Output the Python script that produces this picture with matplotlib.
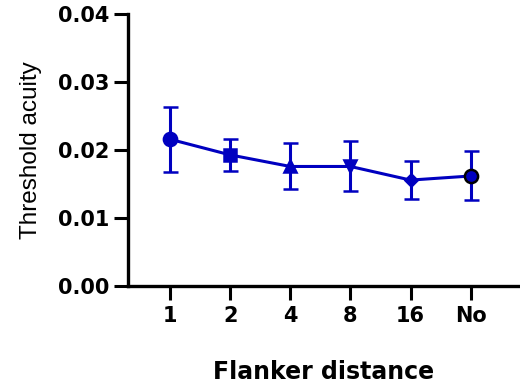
import matplotlib
matplotlib.use("Agg")
import matplotlib.pyplot as plt
import numpy as np

# data
labels = ['1', '2', '4', '8', '16', 'No']
means = [0.0216, 0.0193, 0.0176, 0.0176, 0.0156, 0.0162]
err_low = [0.0048, 0.0024, 0.0033, 0.0036, 0.0028, 0.0036]
err_high = [0.0047, 0.0024, 0.0035, 0.0038, 0.0028, 0.0037]
markers = ['o', 's', '^', 'v', 'D', 'o']
msizes = [9.5, 8.5, 8.5, 8.5, 6.5, 9.5]
edges = ['#0000c0', '#0000c0', '#0000c0', '#0000c0', '#0000c0', 'black']

blue = '#0000c0'

fig = plt.figure(figsize=(5.2, 3.91), dpi=100)
ax = fig.add_axes([0.246, 0.268, 0.754, 0.696])

x = np.arange(1, len(labels) + 1)
ax.plot(x, means, color=blue, lw=2.2, zorder=2)
for i in range(len(x)):
    ax.errorbar(x[i], means[i], yerr=[[err_low[i]], [err_high[i]]],
                fmt=markers[i], color=blue, ms=msizes[i], mfc=blue,
                mec=edges[i], mew=1.8, ecolor=blue, elinewidth=2.2,
                capsize=5.4, capthick=2.2, zorder=3)

ax.set_xlim(0.3, 6.82)
ax.set_ylim(0, 0.04)
ax.set_yticks([0, 0.01, 0.02, 0.03, 0.04])
ax.set_yticklabels(['0.00', '0.01', '0.02', '0.03', '0.04'])
ax.set_xticks(x)
ax.set_xticklabels(labels)

for s in ['top', 'right']:
    ax.spines[s].set_visible(False)
for s in ['left', 'bottom']:
    ax.spines[s].set_linewidth(2.4)

ax.tick_params(axis='both', direction='out', length=10, width=2.2, pad=3)
ax.tick_params(axis='x', pad=4)
for lab in ax.get_yticklabels() + ax.get_xticklabels():
    lab.set_family('DejaVu Sans')
    lab.set_fontweight('bold')
    lab.set_fontsize(15)

ax.set_ylabel('Threshold acuity', family='Liberation Sans', fontsize=17.5, labelpad=12)
ax.set_xlabel('Flanker distance', family='DejaVu Sans', fontweight='bold',
              fontsize=17, labelpad=25)

fig.savefig('out.png', dpi=100)
